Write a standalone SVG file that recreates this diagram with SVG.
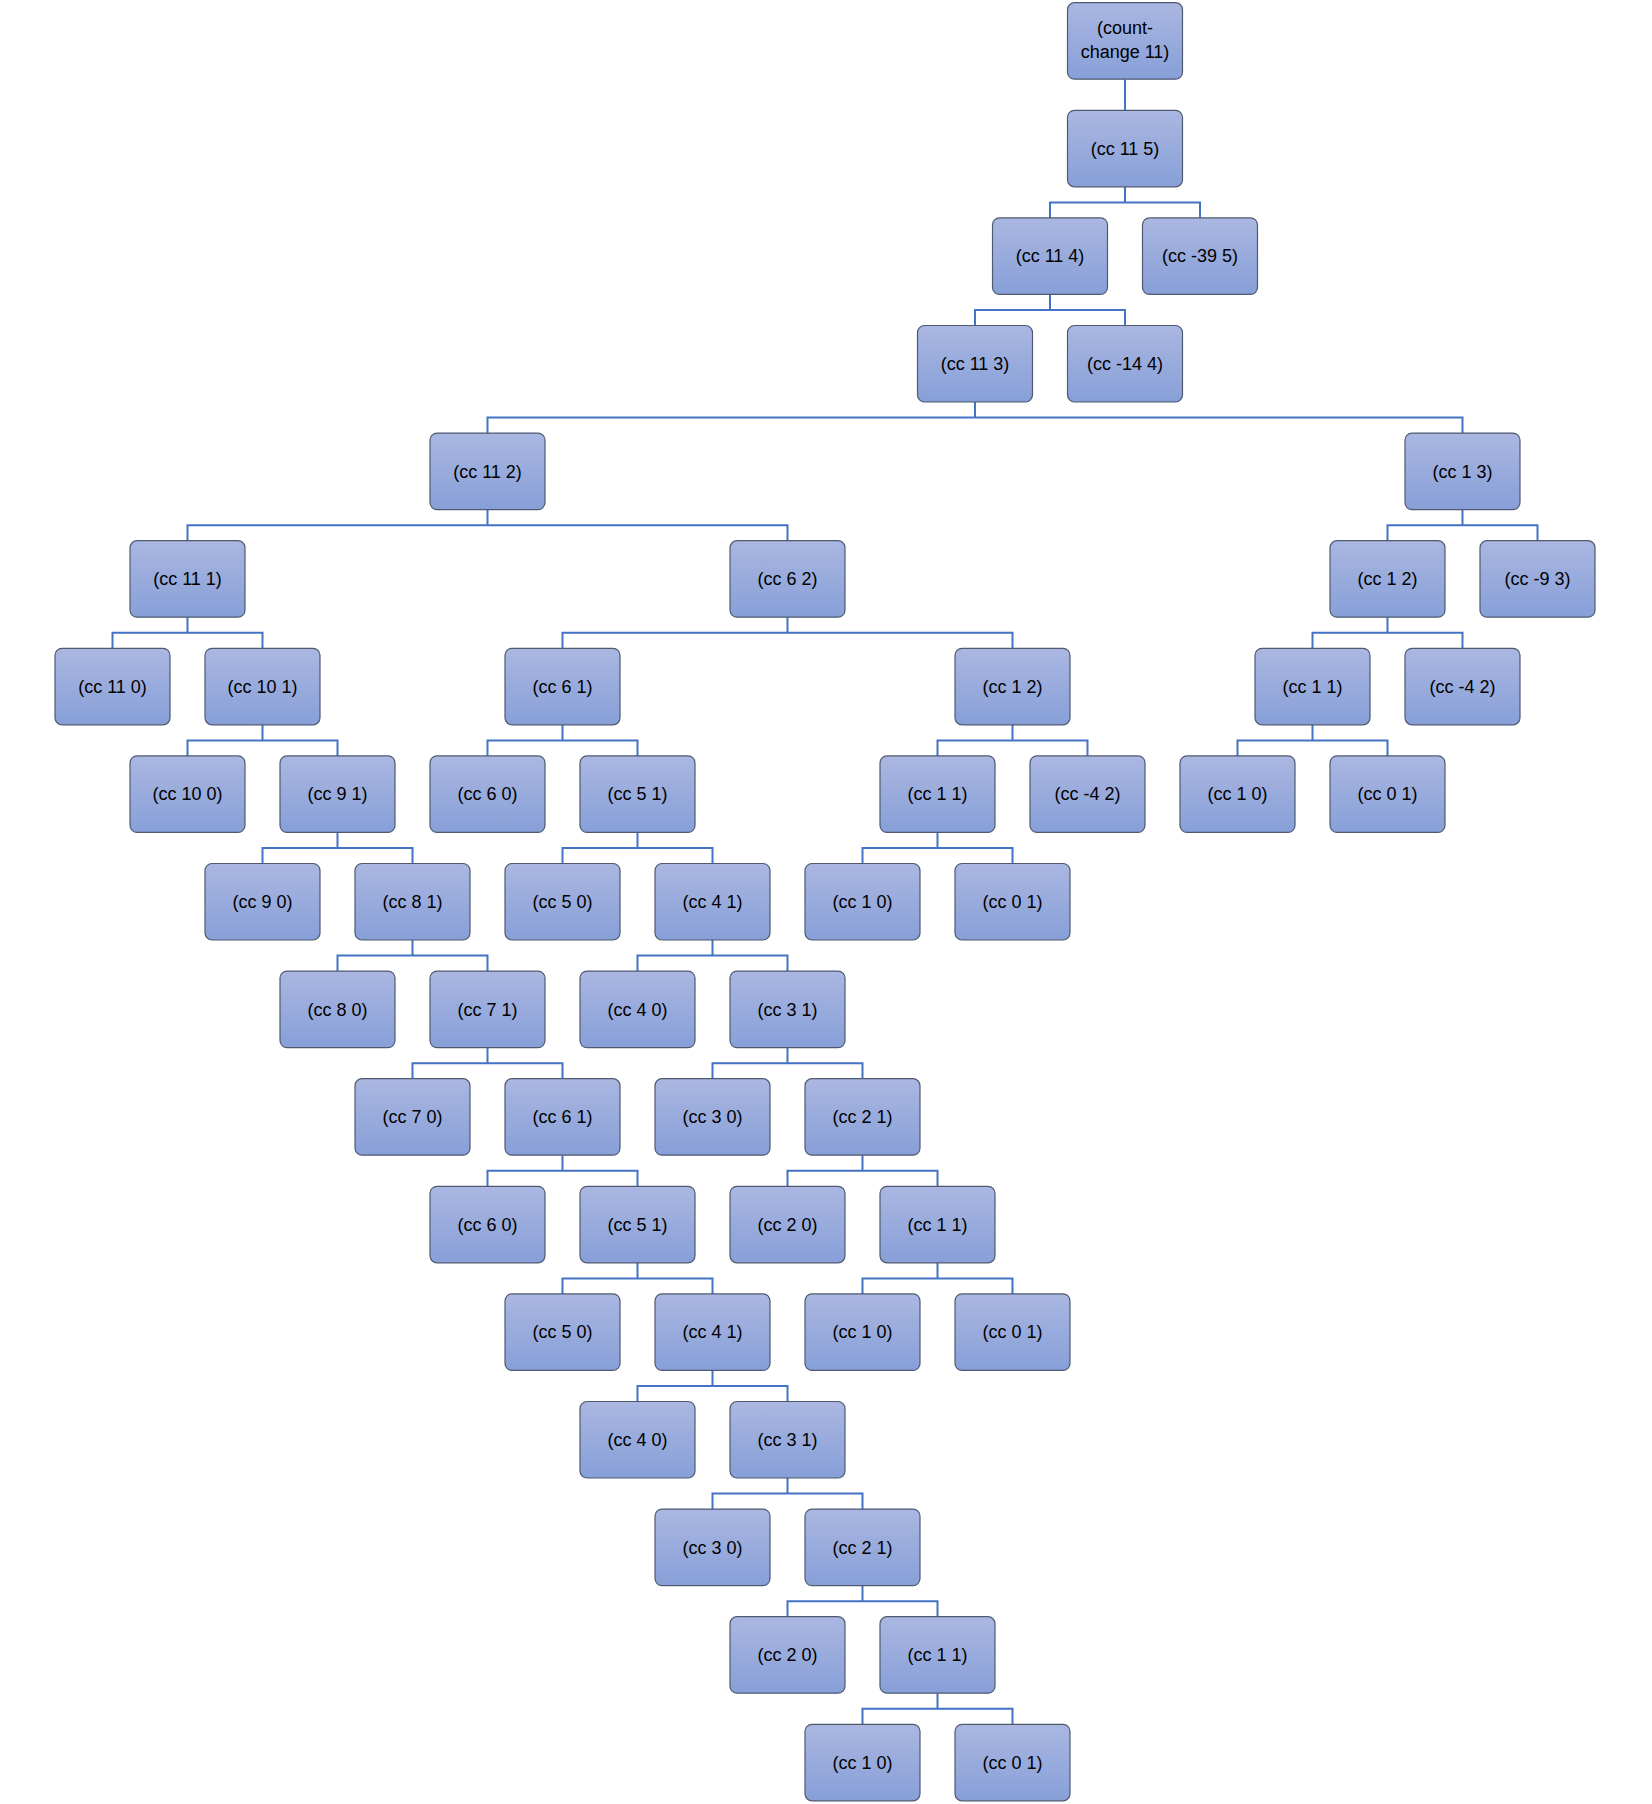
<svg xmlns="http://www.w3.org/2000/svg" width="1652" height="1804" viewBox="0 0 1652 1804">
<defs>
<linearGradient id="fill" x1="0" y1="0" x2="0" y2="1">
<stop offset="0" stop-color="#aab7e1"/>
<stop offset="1" stop-color="#879fd8"/>
</linearGradient>
<style>
.box{fill:url(#fill);stroke:#4f5a70;stroke-width:1.2}
text{font-family:"Liberation Sans",Arial,sans-serif;font-size:18px;fill:#000;text-anchor:middle}
.conn{fill:none;stroke:#4472c4;stroke-width:2}
</style>
</defs>
<rect width="1652" height="1804" fill="#fff"/>
<g id="connectors" class="conn">
<path d="M1125 79.2V110.3"/>
<path d="M1125 186.8V202.4M1050 217.9V202.4H1200V217.9"/>
<path d="M1050 294.4V310M975 325.5V310H1125V325.5"/>
<path d="M975 402V417.6M487.5 433.1V417.6H1462.5V433.1"/>
<path d="M487.5 509.6V525.2M187.5 540.7V525.2H787.5V540.7"/>
<path d="M1462.5 509.6V525.2M1387.5 540.7V525.2H1537.5V540.7"/>
<path d="M187.5 617.2V632.8M112.5 648.3V632.8H262.5V648.3"/>
<path d="M787.5 617.2V632.8M562.5 648.3V632.8H1012.5V648.3"/>
<path d="M1387.5 617.2V632.8M1312.5 648.3V632.8H1462.5V648.3"/>
<path d="M262.5 724.8V740.4M187.5 755.9V740.4H337.5V755.9"/>
<path d="M562.5 724.8V740.4M487.5 755.9V740.4H637.5V755.9"/>
<path d="M1012.5 724.8V740.4M937.5 755.9V740.4H1087.5V755.9"/>
<path d="M1312.5 724.8V740.4M1237.5 755.9V740.4H1387.5V755.9"/>
<path d="M337.5 832.4V848M262.5 863.5V848H412.5V863.5"/>
<path d="M637.5 832.4V848M562.5 863.5V848H712.5V863.5"/>
<path d="M937.5 832.4V848M862.5 863.5V848H1012.5V863.5"/>
<path d="M412.5 940V955.6M337.5 971.1V955.6H487.5V971.1"/>
<path d="M712.5 940V955.6M637.5 971.1V955.6H787.5V971.1"/>
<path d="M487.5 1047.6V1063.2M412.5 1078.7V1063.2H562.5V1078.7"/>
<path d="M787.5 1047.6V1063.2M712.5 1078.7V1063.2H862.5V1078.7"/>
<path d="M562.5 1155.2V1170.8M487.5 1186.3V1170.8H637.5V1186.3"/>
<path d="M862.5 1155.2V1170.8M787.5 1186.3V1170.8H937.5V1186.3"/>
<path d="M637.5 1262.8V1278.4M562.5 1293.9V1278.4H712.5V1293.9"/>
<path d="M937.5 1262.8V1278.4M862.5 1293.9V1278.4H1012.5V1293.9"/>
<path d="M712.5 1370.4V1386M637.5 1401.5V1386H787.5V1401.5"/>
<path d="M787.5 1478V1493.6M712.5 1509.1V1493.6H862.5V1509.1"/>
<path d="M862.5 1585.6V1601.2M787.5 1616.7V1601.2H937.5V1616.7"/>
<path d="M937.5 1693.2V1708.8M862.5 1724.3V1708.8H1012.5V1724.3"/>
</g>
<g id="n0" transform="translate(1067.5,2.7)"><rect class="box" width="115" height="76.5" rx="7"/><text x="57.5" y="31">(count-</text><text x="57.5" y="55">change 11)</text></g>
<g id="n1" transform="translate(1067.5,110.3)"><rect class="box" width="115" height="76.5" rx="7"/><text x="57.5" y="44.5">(cc 11 5)</text></g>
<g id="n2" transform="translate(992.5,217.9)"><rect class="box" width="115" height="76.5" rx="7"/><text x="57.5" y="44.5">(cc 11 4)</text></g>
<g id="n3" transform="translate(1142.5,217.9)"><rect class="box" width="115" height="76.5" rx="7"/><text x="57.5" y="44.5">(cc -39 5)</text></g>
<g id="n4" transform="translate(917.5,325.5)"><rect class="box" width="115" height="76.5" rx="7"/><text x="57.5" y="44.5">(cc 11 3)</text></g>
<g id="n5" transform="translate(1067.5,325.5)"><rect class="box" width="115" height="76.5" rx="7"/><text x="57.5" y="44.5">(cc -14 4)</text></g>
<g id="n6" transform="translate(430,433.1)"><rect class="box" width="115" height="76.5" rx="7"/><text x="57.5" y="44.5">(cc 11 2)</text></g>
<g id="n7" transform="translate(1405,433.1)"><rect class="box" width="115" height="76.5" rx="7"/><text x="57.5" y="44.5">(cc 1 3)</text></g>
<g id="n8" transform="translate(130,540.7)"><rect class="box" width="115" height="76.5" rx="7"/><text x="57.5" y="44.5">(cc 11 1)</text></g>
<g id="n9" transform="translate(730,540.7)"><rect class="box" width="115" height="76.5" rx="7"/><text x="57.5" y="44.5">(cc 6 2)</text></g>
<g id="n10" transform="translate(1330,540.7)"><rect class="box" width="115" height="76.5" rx="7"/><text x="57.5" y="44.5">(cc 1 2)</text></g>
<g id="n11" transform="translate(1480,540.7)"><rect class="box" width="115" height="76.5" rx="7"/><text x="57.5" y="44.5">(cc -9 3)</text></g>
<g id="n12" transform="translate(55,648.3)"><rect class="box" width="115" height="76.5" rx="7"/><text x="57.5" y="44.5">(cc 11 0)</text></g>
<g id="n13" transform="translate(205,648.3)"><rect class="box" width="115" height="76.5" rx="7"/><text x="57.5" y="44.5">(cc 10 1)</text></g>
<g id="n14" transform="translate(505,648.3)"><rect class="box" width="115" height="76.5" rx="7"/><text x="57.5" y="44.5">(cc 6 1)</text></g>
<g id="n15" transform="translate(955,648.3)"><rect class="box" width="115" height="76.5" rx="7"/><text x="57.5" y="44.5">(cc 1 2)</text></g>
<g id="n16" transform="translate(1255,648.3)"><rect class="box" width="115" height="76.5" rx="7"/><text x="57.5" y="44.5">(cc 1 1)</text></g>
<g id="n17" transform="translate(1405,648.3)"><rect class="box" width="115" height="76.5" rx="7"/><text x="57.5" y="44.5">(cc -4 2)</text></g>
<g id="n18" transform="translate(130,755.9)"><rect class="box" width="115" height="76.5" rx="7"/><text x="57.5" y="44.5">(cc 10 0)</text></g>
<g id="n19" transform="translate(280,755.9)"><rect class="box" width="115" height="76.5" rx="7"/><text x="57.5" y="44.5">(cc 9 1)</text></g>
<g id="n20" transform="translate(430,755.9)"><rect class="box" width="115" height="76.5" rx="7"/><text x="57.5" y="44.5">(cc 6 0)</text></g>
<g id="n21" transform="translate(580,755.9)"><rect class="box" width="115" height="76.5" rx="7"/><text x="57.5" y="44.5">(cc 5 1)</text></g>
<g id="n22" transform="translate(880,755.9)"><rect class="box" width="115" height="76.5" rx="7"/><text x="57.5" y="44.5">(cc 1 1)</text></g>
<g id="n23" transform="translate(1030,755.9)"><rect class="box" width="115" height="76.5" rx="7"/><text x="57.5" y="44.5">(cc -4 2)</text></g>
<g id="n24" transform="translate(1180,755.9)"><rect class="box" width="115" height="76.5" rx="7"/><text x="57.5" y="44.5">(cc 1 0)</text></g>
<g id="n25" transform="translate(1330,755.9)"><rect class="box" width="115" height="76.5" rx="7"/><text x="57.5" y="44.5">(cc 0 1)</text></g>
<g id="n26" transform="translate(205,863.5)"><rect class="box" width="115" height="76.5" rx="7"/><text x="57.5" y="44.5">(cc 9 0)</text></g>
<g id="n27" transform="translate(355,863.5)"><rect class="box" width="115" height="76.5" rx="7"/><text x="57.5" y="44.5">(cc 8 1)</text></g>
<g id="n28" transform="translate(505,863.5)"><rect class="box" width="115" height="76.5" rx="7"/><text x="57.5" y="44.5">(cc 5 0)</text></g>
<g id="n29" transform="translate(655,863.5)"><rect class="box" width="115" height="76.5" rx="7"/><text x="57.5" y="44.5">(cc 4 1)</text></g>
<g id="n30" transform="translate(805,863.5)"><rect class="box" width="115" height="76.5" rx="7"/><text x="57.5" y="44.5">(cc 1 0)</text></g>
<g id="n31" transform="translate(955,863.5)"><rect class="box" width="115" height="76.5" rx="7"/><text x="57.5" y="44.5">(cc 0 1)</text></g>
<g id="n32" transform="translate(280,971.1)"><rect class="box" width="115" height="76.5" rx="7"/><text x="57.5" y="44.5">(cc 8 0)</text></g>
<g id="n33" transform="translate(430,971.1)"><rect class="box" width="115" height="76.5" rx="7"/><text x="57.5" y="44.5">(cc 7 1)</text></g>
<g id="n34" transform="translate(580,971.1)"><rect class="box" width="115" height="76.5" rx="7"/><text x="57.5" y="44.5">(cc 4 0)</text></g>
<g id="n35" transform="translate(730,971.1)"><rect class="box" width="115" height="76.5" rx="7"/><text x="57.5" y="44.5">(cc 3 1)</text></g>
<g id="n36" transform="translate(355,1078.7)"><rect class="box" width="115" height="76.5" rx="7"/><text x="57.5" y="44.5">(cc 7 0)</text></g>
<g id="n37" transform="translate(505,1078.7)"><rect class="box" width="115" height="76.5" rx="7"/><text x="57.5" y="44.5">(cc 6 1)</text></g>
<g id="n38" transform="translate(655,1078.7)"><rect class="box" width="115" height="76.5" rx="7"/><text x="57.5" y="44.5">(cc 3 0)</text></g>
<g id="n39" transform="translate(805,1078.7)"><rect class="box" width="115" height="76.5" rx="7"/><text x="57.5" y="44.5">(cc 2 1)</text></g>
<g id="n40" transform="translate(430,1186.3)"><rect class="box" width="115" height="76.5" rx="7"/><text x="57.5" y="44.5">(cc 6 0)</text></g>
<g id="n41" transform="translate(580,1186.3)"><rect class="box" width="115" height="76.5" rx="7"/><text x="57.5" y="44.5">(cc 5 1)</text></g>
<g id="n42" transform="translate(730,1186.3)"><rect class="box" width="115" height="76.5" rx="7"/><text x="57.5" y="44.5">(cc 2 0)</text></g>
<g id="n43" transform="translate(880,1186.3)"><rect class="box" width="115" height="76.5" rx="7"/><text x="57.5" y="44.5">(cc 1 1)</text></g>
<g id="n44" transform="translate(505,1293.9)"><rect class="box" width="115" height="76.5" rx="7"/><text x="57.5" y="44.5">(cc 5 0)</text></g>
<g id="n45" transform="translate(655,1293.9)"><rect class="box" width="115" height="76.5" rx="7"/><text x="57.5" y="44.5">(cc 4 1)</text></g>
<g id="n46" transform="translate(805,1293.9)"><rect class="box" width="115" height="76.5" rx="7"/><text x="57.5" y="44.5">(cc 1 0)</text></g>
<g id="n47" transform="translate(955,1293.9)"><rect class="box" width="115" height="76.5" rx="7"/><text x="57.5" y="44.5">(cc 0 1)</text></g>
<g id="n48" transform="translate(580,1401.5)"><rect class="box" width="115" height="76.5" rx="7"/><text x="57.5" y="44.5">(cc 4 0)</text></g>
<g id="n49" transform="translate(730,1401.5)"><rect class="box" width="115" height="76.5" rx="7"/><text x="57.5" y="44.5">(cc 3 1)</text></g>
<g id="n50" transform="translate(655,1509.1)"><rect class="box" width="115" height="76.5" rx="7"/><text x="57.5" y="44.5">(cc 3 0)</text></g>
<g id="n51" transform="translate(805,1509.1)"><rect class="box" width="115" height="76.5" rx="7"/><text x="57.5" y="44.5">(cc 2 1)</text></g>
<g id="n52" transform="translate(730,1616.7)"><rect class="box" width="115" height="76.5" rx="7"/><text x="57.5" y="44.5">(cc 2 0)</text></g>
<g id="n53" transform="translate(880,1616.7)"><rect class="box" width="115" height="76.5" rx="7"/><text x="57.5" y="44.5">(cc 1 1)</text></g>
<g id="n54" transform="translate(805,1724.3)"><rect class="box" width="115" height="76.5" rx="7"/><text x="57.5" y="44.5">(cc 1 0)</text></g>
<g id="n55" transform="translate(955,1724.3)"><rect class="box" width="115" height="76.5" rx="7"/><text x="57.5" y="44.5">(cc 0 1)</text></g>
</svg>
